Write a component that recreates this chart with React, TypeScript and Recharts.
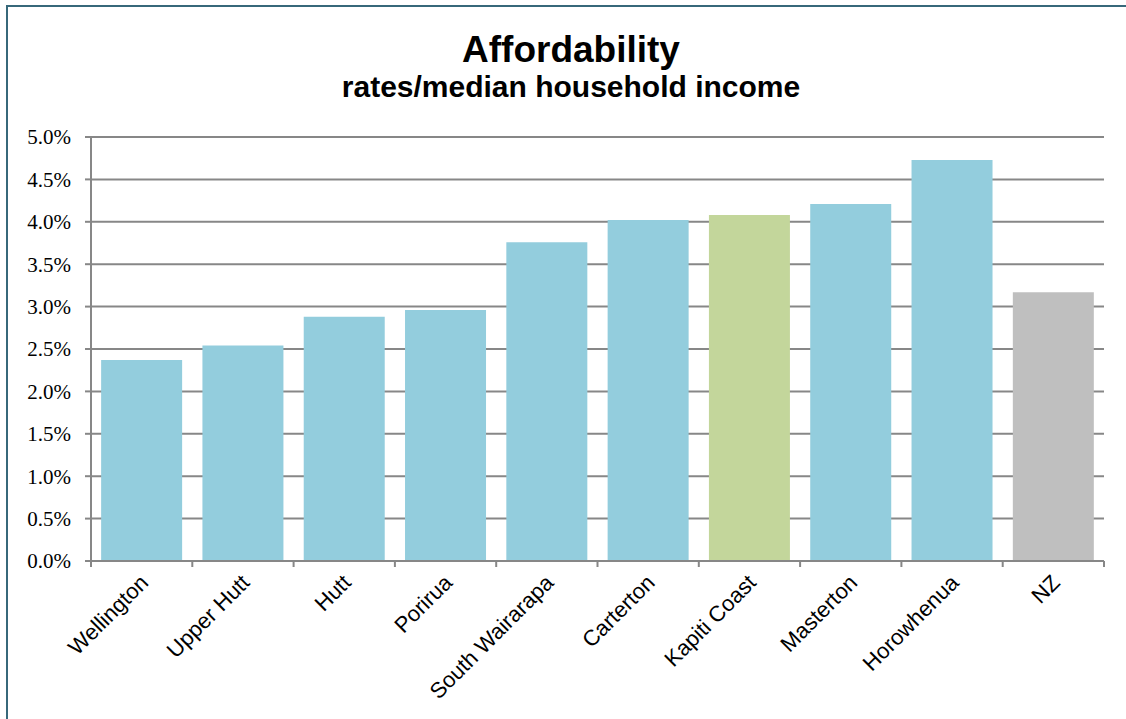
import React from 'react';
import { BarChart, Bar, XAxis, YAxis, CartesianGrid, Cell } from 'recharts';

const councils = [
  'Wellington',
  'Upper Hutt',
  'Hutt',
  'Porirua',
  'South Wairarapa',
  'Carterton',
  'Kapiti Coast',
  'Masterton',
  'Horowhenua',
  'NZ',
];
// rates as % of median household income
const affordability = [2.37, 2.54, 2.88, 2.96, 3.76, 4.02, 4.08, 4.21, 4.73, 3.17];
const barColors = [
  '#93cddd',
  '#93cddd',
  '#93cddd',
  '#93cddd',
  '#93cddd',
  '#93cddd',
  '#c3d69b',
  '#93cddd',
  '#93cddd',
  '#bfbfbf',
];
const yTicks = [0, 0.5, 1, 1.5, 2, 2.5, 3, 3.5, 4, 4.5, 5];

const W = 1126;
const H = 719;
const Y_AXIS_W = 91;
const RIGHT = 22;
const BAND = (W - Y_AXIS_W - RIGHT) / councils.length;
const GRID = '#878787';

const data = councils.map((name, i) => ({ name, value: affordability[i], color: barColors[i] }));

// category label plus tick marks on the category boundaries (Excel style)
const XTick = (props: any) => {
  const { x, y, payload, index } = props;
  const half = BAND / 2;
  const lx = x + 8;
  const ly = y + 23;
  return (
    <g>
      <line x1={x - half} y1={y} x2={x - half} y2={y + 6} stroke={GRID} strokeWidth={2} />
      {index === councils.length - 1 && (
        <line x1={x + half} y1={y} x2={x + half} y2={y + 6} stroke={GRID} strokeWidth={2} />
      )}
      <text
        x={lx}
        y={ly}
        textAnchor="end"
        transform={`rotate(-45, ${lx}, ${ly})`}
        fontFamily="'Liberation Sans', Arial, sans-serif"
        fontSize={22}
        fill="#000"
      >
        {payload.value}
      </text>
    </g>
  );
};

export default function App() {
  return (
    <div style={{ position: 'absolute', left: 0, top: 0, width: W, height: H, overflow: 'hidden', background: '#fff' }}>
      <div
        style={{
          position: 'absolute',
          left: 6,
          top: 5,
          width: W - 8,
          height: H - 5,
          borderLeft: '2px solid #37687a',
          borderTop: '2px solid #37687a',
        }}
      />
      <div
        style={{
          position: 'absolute',
          left: 171,
          top: 31,
          width: 800,
          textAlign: 'center',
          fontFamily: "'Liberation Sans', Arial, sans-serif",
          fontWeight: 'bold',
          fontSize: 37,
          lineHeight: 1,
        }}
      >
        Affordability
      </div>
      <div
        style={{
          position: 'absolute',
          left: 171,
          top: 72,
          width: 800,
          textAlign: 'center',
          fontFamily: "'Liberation Sans', Arial, sans-serif",
          fontWeight: 'bold',
          fontSize: 30,
          lineHeight: 1,
        }}
      >
        rates/median household income
      </div>
      <BarChart
        width={W}
        height={H}
        data={data}
        margin={{ top: 137, right: RIGHT, bottom: 0, left: 0 }}
        barCategoryGap="10%"
      >
        <CartesianGrid vertical={false} stroke={GRID} strokeWidth={2} />
        <XAxis
          dataKey="name"
          height={158}
          interval={0}
          tickLine={false}
          tickSize={0}
          tickMargin={0}
          axisLine={{ stroke: GRID, strokeWidth: 2 }}
          tick={<XTick />}
        />
        <YAxis
          width={Y_AXIS_W}
          domain={[0, 5]}
          ticks={yTicks}
          interval={0}
          tickSize={6}
          tickMargin={14}
          tickFormatter={(v: number) => `${v.toFixed(1)}%`}
          tickLine={{ stroke: GRID, strokeWidth: 2 }}
          axisLine={{ stroke: GRID, strokeWidth: 2 }}
          tick={{ fill: '#000', fontSize: 21, fontFamily: "'Liberation Serif', 'DejaVu Serif', serif" }}
        />
        <Bar dataKey="value" isAnimationActive={false}>
          {data.map((d) => (
            <Cell key={d.name} fill={d.color} />
          ))}
        </Bar>
      </BarChart>
    </div>
  );
}
